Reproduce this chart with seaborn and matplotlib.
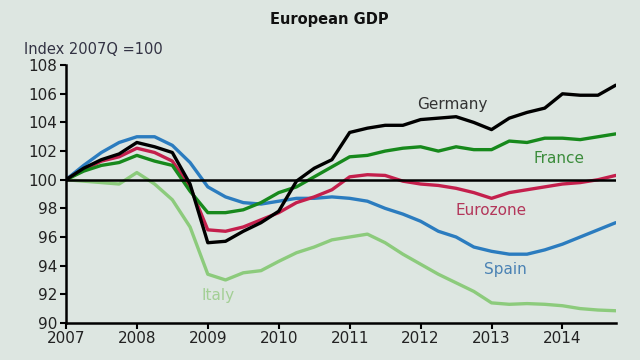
import numpy as np
import pandas as pd
import matplotlib.pyplot as plt
import seaborn as sns

# quarterly index, 2007Q1 = 100
quarters = [2007 + i * 0.25 for i in range(32)]

germany = [100.0, 100.8, 101.4, 101.8, 102.6, 102.3, 101.9, 99.7,
           95.6, 95.7, 96.4, 97.0, 97.8, 99.9, 100.8, 101.4,
           103.3, 103.6, 103.8, 103.8, 104.2, 104.3, 104.4, 104.0,
           103.5, 104.3, 104.7, 105.0, 106.0, 105.9, 105.9, 106.6]
france = [100.0, 100.6, 101.0, 101.2, 101.7, 101.3, 101.0, 99.2,
          97.7, 97.7, 97.9, 98.4, 99.1, 99.5, 100.2, 100.9,
          101.6, 101.7, 102.0, 102.2, 102.3, 102.0, 102.3, 102.1,
          102.1, 102.7, 102.6, 102.9, 102.9, 102.8, 103.0, 103.2]
eurozone = [100.0, 100.7, 101.3, 101.6, 102.2, 101.9, 101.3, 99.5,
            96.5, 96.4, 96.7, 97.2, 97.7, 98.4, 98.8, 99.3,
            100.2, 100.35, 100.3, 99.9, 99.7, 99.6, 99.4, 99.1,
            98.7, 99.1, 99.3, 99.5, 99.7, 99.8, 100.0, 100.3]
spain = [100.0, 101.0, 101.9, 102.6, 103.0, 103.0, 102.4, 101.2,
         99.5, 98.8, 98.4, 98.3, 98.5, 98.7, 98.7, 98.8,
         98.7, 98.5, 98.0, 97.6, 97.1, 96.4, 96.0, 95.3,
         95.0, 94.8, 94.8, 95.1, 95.5, 96.0, 96.5, 97.0]
italy = [100.0, 99.9, 99.8, 99.7, 100.5, 99.7, 98.6, 96.7,
         93.4, 93.0, 93.5, 93.65, 94.3, 94.9, 95.3, 95.8,
         96.0, 96.2, 95.6, 94.8, 94.1, 93.4, 92.8, 92.2,
         91.4, 91.3, 91.35, 91.3, 91.2, 91.0, 90.9, 90.85]

countries = ["Germany", "France", "Eurozone", "Spain", "Italy"]
series = [germany, france, eurozone, spain, italy]

df = pd.concat([pd.DataFrame({"quarter": quarters, "index": s, "country": c})
                for c, s in zip(countries, series)])

bg = "#dde6e1"
palette = {"Germany": "#000000", "France": "#17891c", "Eurozone": "#c41f4c",
           "Spain": "#2b7cbf", "Italy": "#8ccb7c"}
label_colors = {"Germany": "#333333", "France": "#3b8c3b", "Eurozone": "#b3365a",
                "Spain": "#4a82b4", "Italy": "#a3cf95"}

sns.set_style("ticks")
plt.rcParams["font.family"] = ["DejaVu Sans"]

fig = plt.figure(figsize=(6.4, 3.6), dpi=100, facecolor=bg)
ax = fig.add_axes([0.103, 0.103, 0.859, 0.716], facecolor=bg)

ax.axhline(100, color="black", lw=1.8, zorder=3)
sns.lineplot(data=df, x="quarter", y="index", hue="country", palette=palette,
             hue_order=["Italy", "Spain", "Eurozone", "France", "Germany"],
             lw=2.4, legend=False, ax=ax, zorder=2)

ax.set_xlim(2007, 2014.75)
ax.set_ylim(90, 108)
ax.set_xticks(range(2007, 2015))
ax.set_yticks(range(90, 109, 2))
ax.set_xlabel("")
ax.set_ylabel("")
for s in ["top", "right"]:
    ax.spines[s].set_visible(False)
for s in ["left", "bottom"]:
    ax.spines[s].set_linewidth(1.8)
    ax.spines[s].set_color("black")
ax.tick_params(axis="both", labelsize=11, labelcolor="#222222", color="black",
               length=4, width=1.5, direction="out", pad=2)

labels = [("Germany", 2012.45, 105.25), ("France", 2013.95, 101.5),
          ("Eurozone", 2013.0, 97.85), ("Spain", 2013.2, 93.7),
          ("Italy", 2009.14, 91.9)]
for name, x, y in labels:
    ax.text(x, y, name, color=label_colors[name], fontsize=11,
            ha="center", va="center")

fig.text(0.515, 0.947, "European GDP", ha="center", va="center",
         fontsize=10.5, fontweight="bold", color="#111111")
fig.text(0.038, 0.862, "Index 2007Q =100", ha="left", va="center",
         fontsize=10.5, color="#333344")

fig.savefig("out.png", dpi=100, facecolor=bg)
